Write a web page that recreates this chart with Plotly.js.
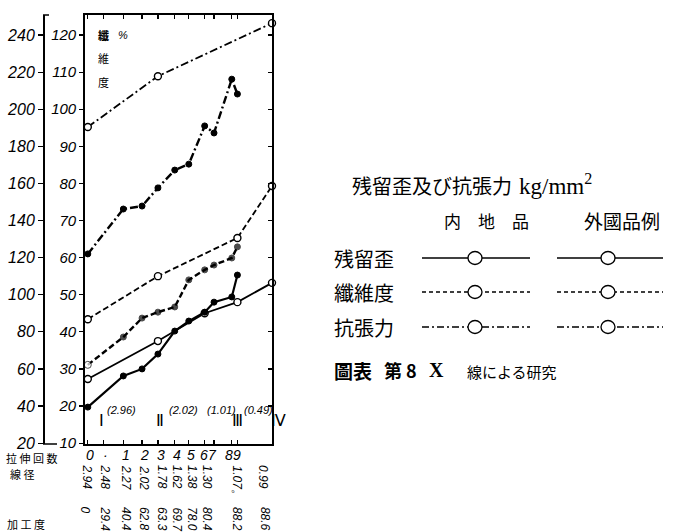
<!DOCTYPE html>
<html><head><meta charset="utf-8">
<script src="https://cdn.plot.ly/plotly-3.0.1.min.js"></script>
<style>html,body{margin:0;padding:0;background:#fff}#chart{width:680px;height:532px}</style>
</head><body><div id="chart"></div>
<script>
// drawing stages (抜伸回数) and their positions along the drawn x-axis
const stages   = ['0','·','1','2','3','4','5','6','7','8','9','IV'];
const stagePos = [0.15, 1.0, 2.05, 3.05, 3.9, 4.8, 5.55, 6.4, 6.9, 7.85, 8.15, 10.0];
const stageLabelX = [0.27, 1.12, 2.19, 3.16, 4.06, 4.92, 5.67, 6.36, 6.84, 7.7, 8.13];

// 抗張力 kg/mm² (outer axis)
const tensileDom = [190.4, null, null, null, 217.8, null, null, null, null, null, null, 246.4];
const tensileFor = [122.0, null, 146.2, 147.8, 157.6, 167.2, 170.4, 191.0, 187.2, 216.2, 208.2, null];
// 纖維度 % (inner axis)
const fiberDom = [43.4, null, null, null, 55.0, null, null, null, null, null, 65.3, 79.3];
const fiberFor = [31.1, null, 38.6, 43.7, 45.3, 46.7, 54.0, 56.7, 58.0, 59.9, 62.9, null];
// 残留歪 kg/mm² (inner axis)
const strainDom = [27.3, null, null, null, 37.5, null, null, 45.0, null, null, 48.0, 53.2];
const strainFor = [19.7, null, 28.1, 30.0, 34.0, 40.2, 42.9, 45.3, 48.0, 49.4, 55.3, null];

// bottom tables
const wireDiam   = ['2.94','2.48','2.27','2.02','1.78','1.62','1.38','1.30','1.07。','0.99'];
const wireDiamX  = [0.16, 1.12, 2.19, 3.16, 4.12, 4.92, 5.72, 6.52, 8.13, 9.52];
const reduction  = ['0','29.4','40.4','62.8','63.3','69.7','78.0','80.4','88.2','88.6'];
const reductionX = [0.05, 1.12, 2.19, 3.16, 4.12, 4.92, 5.72, 6.52, 8.13, 9.63];

// group marks inside the plot
const groupLabels = ['Ⅰ','Ⅱ','Ⅲ'];
const groupX      = [0.86, 4.0, 8.13];
const groupDiam   = ['(2.96)','(2.02)','(1.01)','(0.49)'];
const groupDiamX  = [1.07, 4.39, 6.42, 8.42];

// ---- layout geometry helpers (page pixels -> paper) ----
const L = 43, R = 272, T = 15, B = 444;
const px = v => (v - L) / (R - L);
const py = v => (B - v) / (B - T);

const hollow = {symbol:'circle', size:7, color:'#fff', line:{color:'#000', width:1.4}};
const filled = {symbol:'circle', size:6, color:'#000', line:{color:'#000', width:1}};
function tr(y, dash, marker, width, axis){
  return {x: stagePos, y: y, type:'scatter', mode:'lines+markers', connectgaps:true,
          yaxis: axis || 'y', line:{color:'#000', width: width, dash: dash},
          marker: marker, hoverinfo:'skip', showlegend:false, cliponaxis:false};
}
const fiberForMarker = Object.assign({}, filled, {
  color: fiberFor.map((v,i)=> i===0 ? '#fff' : '#000'), size: fiberFor.map((v,i)=> i===0 ? 7 : 6)});

const DD = '8px,3px,2px,3px';
const data = [
  tr(tensileDom, DD, hollow, 1.8, 'y2'),
  tr(tensileFor, DD, filled, 2.4, 'y2'),
  tr(fiberDom, '6px,3px', hollow, 1.8),
  tr(fiberFor, '6px,3px', fiberForMarker, 2.4),
  tr(strainDom, 'solid', hollow, 1.8),
  tr(strainFor, 'solid', filled, 2.2),
  {x:[null], y:[null], yaxis:'y3', type:'scatter', showlegend:false, hoverinfo:'skip'}
];

const jp = 'Noto Sans CJK JP, sans-serif';
const ann = [];
function A(o){ ann.push(Object.assign({showarrow:false, xref:'paper', yref:'paper', xanchor:'center', yanchor:'middle'}, o)); }
const itf = (s)=>({family:'Liberation Sans, Arial, sans-serif', size:s, color:'#000', style:'italic'});

stages.slice(0,11).forEach((t,i)=> A({x: stageLabelX[i], xref:'x', y: py(455), text:'<i>'+t+'</i>', font:itf(14)}));
wireDiam.forEach((t,i)=> A({x: wireDiamX[i], xref:'x', y: py(463), yanchor:'top',
  textangle:90, text:t, font:itf(12)}));
reduction.forEach((t,i)=> A({x: reductionX[i], xref:'x', y: py(505), yanchor:'top',
  textangle:90, text:t, font:itf(12)}));
groupLabels.forEach((t,i)=> A({x: groupX[i], xref:'x', y: py(420),
  text:t, font:{family:'Liberation Serif, serif', size:16, color:'#000'}}));
A({x:px(278), y:py(420), text:'Ⅳ', font:{family:'Liberation Serif, serif', size:16, color:'#000'}});
groupDiam.forEach((t,i)=> A({x: groupDiamX[i], xref:'x', y: py(410), xanchor:'left',
  text:t, font:itf(11)}));

// row labels under axis
A({x:px(4), y:py(458), xanchor:'left', text:'拉 伸 回 数', font:{family:jp, size:11, color:'#000'}});
A({x:px(8), y:py(474), xanchor:'left', text:'線 径', font:{family:jp, size:11, color:'#000'}});
A({x:px(5), y:py(524), xanchor:'left', text:'加 工 度', font:{family:jp, size:11, color:'#000'}});

// labels inside the plot
A({x:px(103), y:py(35), text:'纖', font:{family:jp, size:11, weight:'bold', color:'#000'}});
A({x:px(123), y:py(35), text:'%', font:itf(11)});
A({x:px(103), y:py(58), text:'維', font:{family:jp, size:11, color:'#000'}});
A({x:px(103), y:py(82), text:'度', font:{family:jp, size:11, color:'#000'}});

// right-hand key
A({x:px(350), y:py(185), xanchor:'left', text:'残留歪及び抗張力', font:{family:jp, size:20, color:'#000'}});
A({x:px(517), y:py(184), xanchor:'left', text:'kg/mm<sup>2</sup>', font:{family:'Liberation Serif, serif', size:23, color:'#000'}});
A({x:px(486), y:py(220), text:'内　地　品', font:{family:jp, size:17, color:'#000'}});
A({x:px(622), y:py(220), text:'外國品例', font:{family:jp, size:19, color:'#000'}});
const rows = [['残留歪',258,'solid'],['纖維度',292,'4px,3px'],['抗張力',327,'7px,3px,2px,3px']];
const shapes = [];
rows.forEach(r=>{
  A({x:px(332), y:py(r[1]), xanchor:'left', text:r[0], font:{family:jp, size:20, color:'#000'}});
  [[422,530,475],[557,663,608]].forEach(s=>{
    shapes.push({type:'line', xref:'paper', yref:'paper', x0:px(s[0]), x1:px(s[1]), y0:py(r[1]), y1:py(r[1]),
      line:{color:'#000', width:1.5, dash:r[2]}});
    shapes.push({type:'circle', xref:'paper', yref:'paper', x0:px(s[2]-7), x1:px(s[2]+7),
      y0:py(r[1]+6.5), y1:py(r[1]-6.5), fillcolor:'#fff', line:{color:'#000', width:1.3}});
  });
});
A({x:px(332), y:py(370), xanchor:'left', text:'圖表', font:{family:jp, size:19, weight:'bold', color:'#000'}});
A({x:px(382), y:py(370), xanchor:'left', text:'第 8', font:{family:jp, size:18, weight:'bold', color:'#000'}});
A({x:px(427), y:py(370), xanchor:'left', text:'X', font:{family:'Liberation Serif, serif', size:20, weight:'bold', color:'#000'}});
A({x:px(465), y:py(371), xanchor:'left', text:'線による研究', font:{family:jp, size:15, color:'#000'}});

// small foot and head of the outer axis
shapes.push({type:'line', xref:'paper', yref:'paper', x0:0, x1:px(57), y0:0, y1:0, line:{color:'#000', width:1.5}});
shapes.push({type:'line', xref:'paper', yref:'paper', x0:0, x1:px(49), y0:1, y1:1, line:{color:'#000', width:1.5}});

const yr = [9.76, 125.4];
const layout = {
  width:680, height:532, paper_bgcolor:'#fff', plot_bgcolor:'#fff',
  margin:{l:L, r:680-R, t:T, b:532-B, pad:0},
  showlegend:false, hovermode:false,
  xaxis:{domain:[(85-L)/(R-L), 1], range:[0,10], tickvals: stagePos.slice(0,11), showticklabels:false,
    ticks:'inside', ticklen:4, tickwidth:1.2, tickcolor:'#000', showline:true, linecolor:'#000', linewidth:1.8,
    mirror:'ticks', showgrid:false, zeroline:false},
  yaxis:{range:yr, tick0:10, dtick:10, ticks:'outside', ticklen:4, tickwidth:1.2, tickcolor:'#000',
    showline:true, linecolor:'#000', linewidth:1.8, showgrid:false, zeroline:false, tickfont:itf(15),
    tickprefix:'<i>', ticksuffix:'</i>'},
  yaxis2:{range:[yr[0]*2, yr[1]*2], tick0:20, dtick:20, overlaying:'y', anchor:'free', position:0, side:'left',
    ticks:'outside', ticklen:5, tickwidth:1.2, tickcolor:'#000', showline:true, linecolor:'#000', linewidth:1.8,
    showgrid:false, zeroline:false, tickfont:itf(16), tickprefix:'<i>', ticksuffix:'</i>'},
  yaxis3:{range:yr, tick0:10, dtick:10, overlaying:'y', anchor:'x', side:'right', ticks:'inside', ticklen:4,
    tickwidth:1.2, tickcolor:'#000', showline:true, linecolor:'#000', linewidth:1.8, showticklabels:false,
    showgrid:false, zeroline:false},
  annotations: ann, shapes: shapes
};
Plotly.newPlot('chart', data, layout, {staticPlot:true, displayModeBar:false});
</script></body></html>
